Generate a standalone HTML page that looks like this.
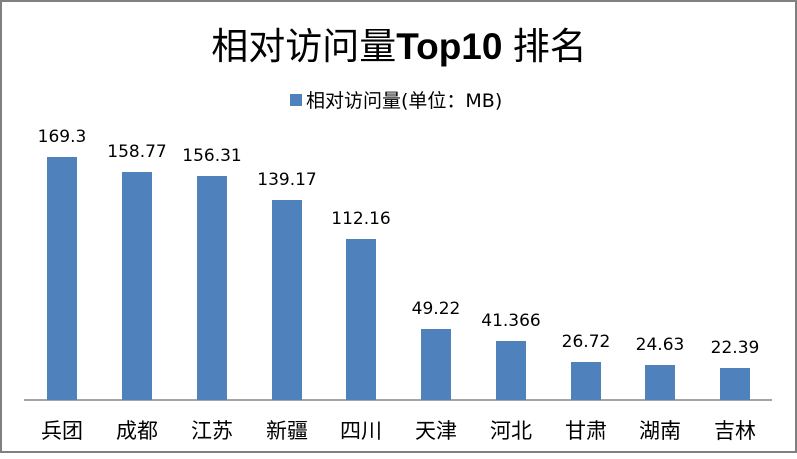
<!DOCTYPE html>
<html><head><meta charset="utf-8"><style>
body{margin:0;background:#fff}
svg text{font-family:"Liberation Sans","Noto Sans CJK SC",sans-serif}
</style></head><body>
<svg width="797" height="454" xmlns="http://www.w3.org/2000/svg">
<rect x="1" y="1" width="795" height="451" fill="#fff" stroke="#808080" stroke-width="2"/>
<text x="399" y="59" font-size="37" text-anchor="middle" fill="#000">相对访问量<tspan font-weight="bold">Top10</tspan> 排名</text>
<rect x="290" y="94" width="12" height="12" fill="#4f81bd"/>
<text x="306" y="107" font-size="19" fill="#000" style="font-family:'DejaVu Sans','Noto Sans CJK SC',sans-serif">相对访问量(单位：MB)</text>
<line x1="24" y1="400" x2="772" y2="400" stroke="#868686" stroke-width="1.5"/>
<g fill="#4f81bd">
<rect x="47" y="157" width="30" height="243"/>
<rect x="122" y="172" width="30" height="228"/>
<rect x="197" y="176" width="30" height="224"/>
<rect x="272" y="200" width="30" height="200"/>
<rect x="346" y="239" width="30" height="161"/>
<rect x="421" y="329" width="30" height="71"/>
<rect x="496" y="341" width="30" height="59"/>
<rect x="571" y="362" width="30" height="38"/>
<rect x="645" y="365" width="30" height="35"/>
<rect x="720" y="368" width="30" height="32"/>
</g>
<g font-size="17" text-anchor="middle" fill="#000" style="font-family:'DejaVu Sans',sans-serif">
<text x="62" y="142" style="font-family:'DejaVu Sans',sans-serif">169.3</text>
<text x="137" y="157" style="font-family:'DejaVu Sans',sans-serif">158.77</text>
<text x="212" y="161" style="font-family:'DejaVu Sans',sans-serif">156.31</text>
<text x="287" y="185" style="font-family:'DejaVu Sans',sans-serif">139.17</text>
<text x="361" y="224" style="font-family:'DejaVu Sans',sans-serif">112.16</text>
<text x="436" y="314" style="font-family:'DejaVu Sans',sans-serif">49.22</text>
<text x="511" y="326" style="font-family:'DejaVu Sans',sans-serif">41.366</text>
<text x="586" y="347" style="font-family:'DejaVu Sans',sans-serif">26.72</text>
<text x="660" y="350" style="font-family:'DejaVu Sans',sans-serif">24.63</text>
<text x="735" y="353" style="font-family:'DejaVu Sans',sans-serif">22.39</text>
</g>
<g font-size="21" text-anchor="middle" fill="#000">
<text x="62" y="438">兵团</text>
<text x="137" y="438">成都</text>
<text x="212" y="438">江苏</text>
<text x="287" y="438">新疆</text>
<text x="361" y="438">四川</text>
<text x="436" y="438">天津</text>
<text x="511" y="438">河北</text>
<text x="586" y="438">甘肃</text>
<text x="660" y="438">湖南</text>
<text x="735" y="438">吉林</text>
</g>
</svg>
</body></html>
